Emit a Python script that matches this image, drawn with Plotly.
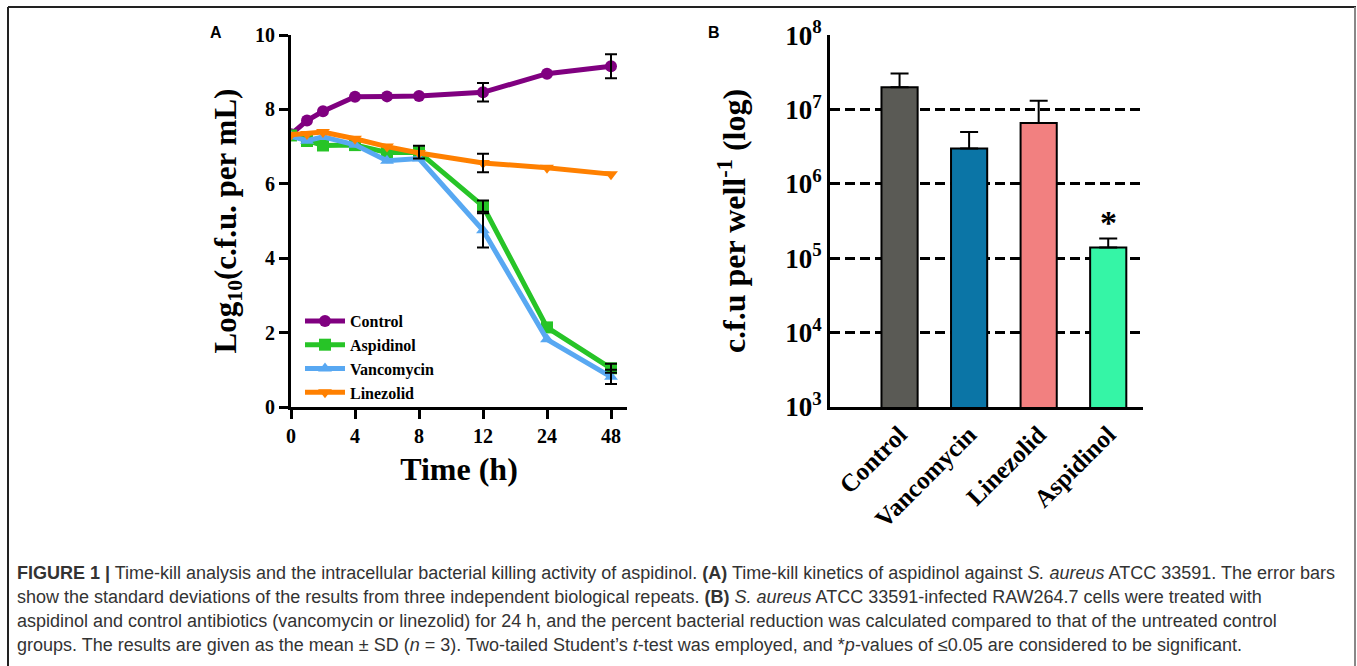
import math
import plotly.graph_objects as go

# ---------------- Panel A data ----------------
times = [0, 1, 2, 4, 6, 8, 12, 24, 48]
time_ticks = [0, 4, 8, 12, 24, 48]

control = [7.33, 7.70, 7.95, 8.34, 8.35, 8.36, 8.46, 8.96, 9.16]
control_err = [0, 0, 0, 0, 0, 0, 0.25, 0, 0.32]
aspidinol = [7.30, 7.15, 7.03, 7.04, 6.84, 6.85, 5.40, 2.14, 1.04]
aspidinol_err = [0, 0, 0, 0, 0, 0.17, 0.15, 0, 0.12]
vancomycin = [7.28, 7.16, 7.26, 7.05, 6.62, 6.68, 4.75, 1.82, 0.81]
vancomycin_err = [0, 0, 0, 0, 0, 0, 0.46, 0, 0.19]
linezolid = [7.32, 7.34, 7.39, 7.21, 7.00, 6.83, 6.56, 6.43, 6.26]
linezolid_err = [0, 0, 0, 0, 0, 0, 0.25, 0, 0]

# ---------------- Panel B data ----------------
groups = ["Control", "Vancomycin", "Linezolid", "Aspidinol"]
cfu = [2.0e7, 3.0e6, 6.6e6, 1.4e5]
cfu_err = [1.05e7, 2.0e6, 6.5e6, 0.45e5]
bar_colors = ["#5a5a55", "#0b75a6", "#f28080", "#35f5a6"]
b_ticks = [1e3, 1e4, 1e5, 1e6, 1e7, 1e8]
b_ticktext = ["10<sup>3</sup>", "10<sup>4</sup>", "10<sup>5</sup>", "10<sup>6</sup>",
              "10<sup>7</sup>", "10<sup>8</sup>"]


def tpos(t):
    # the time axis is uniform up to 12 h, then one tick interval per doubling
    if t <= 12:
        return t
    return 12 + 4 * math.log2(t / 12)


W, H = 1357, 666
SERIF = "Liberation Serif"

fig = go.Figure()

series = [
    ("Control", control, control_err, "#800080", "circle"),
    ("Aspidinol", aspidinol, aspidinol_err, "#27c427", "square"),
    ("Vancomycin", vancomycin, vancomycin_err, "#58a8f2", "triangle-up"),
    ("Linezolid", linezolid, linezolid_err, "#ff8000", "triangle-down"),
]
xp = [tpos(t) for t in times]
for name, vals, err, col, sym in series:
    fig.add_trace(go.Scatter(
        x=xp, y=vals, name=name, mode="lines+markers",
        line=dict(color=col, width=5),
        marker=dict(symbol=sym, size=12, color=col),
        xaxis="x", yaxis="y",
    ))
for name, vals, err, col, sym in series:
    idx = [i for i, e in enumerate(err) if e > 0]
    fig.add_trace(go.Scatter(
        x=[xp[i] for i in idx], y=[vals[i] for i in idx], mode="markers",
        marker=dict(size=1, color="rgba(0,0,0,0)"), showlegend=False,
        error_y=dict(type="data", array=[err[i] for i in idx], color="black",
                     thickness=2, width=6),
        xaxis="x", yaxis="y", hoverinfo="skip",
    ))

fig.add_trace(go.Bar(
    x=groups, y=cfu, marker=dict(color=bar_colors, line=dict(color="black", width=2)),
    width=0.52, showlegend=False,
    error_y=dict(type="data", array=cfu_err, arrayminus=[0] * len(cfu), symmetric=False,
                 color="black", thickness=2, width=9),
    xaxis="x2", yaxis="y2",
))


def px_x(a, b):
    return [a / W, b / W]


def px_y(top, bottom):
    return [1 - bottom / H, 1 - top / H]


fig.update_layout(
    width=W, height=H, autosize=False,
    margin=dict(l=0, r=0, t=0, b=0, autoexpand=False),
    paper_bgcolor="white", plot_bgcolor="rgba(0,0,0,0)",
    showlegend=True,
    legend=dict(x=300 / W, y=1 - 304 / H, xanchor="left", yanchor="top",
                bgcolor="rgba(0,0,0,0)", font=dict(family=SERIF, size=16, color="black", weight="bold"),
                tracegroupgap=0, itemwidth=40),
    xaxis=dict(domain=px_x(291, 627), range=[0, 21], tickvals=[tpos(t) for t in time_ticks],
               ticktext=[str(t) for t in time_ticks], showline=True, linecolor="black", linewidth=3,
               ticks="outside", ticklen=9, tickwidth=3, tickcolor="black", showgrid=False, zeroline=False,
               automargin=False,
               tickfont=dict(family=SERIF, size=20, color="black", weight="bold"),
               title=dict(text="Time (h)", font=dict(family=SERIF, size=32, color="black", weight="bold"),
                          standoff=12),
               anchor="y"),
    yaxis=dict(domain=px_y(35, 407), range=[0, 10], tickvals=[0, 2, 4, 6, 8, 10],
               showline=True, linecolor="black", linewidth=3, ticks="outside", ticklen=9, tickwidth=3,
               tickcolor="black", showgrid=False, zeroline=False, automargin=False,
               tickfont=dict(family=SERIF, size=20, color="black", weight="bold"),
               title=dict(text="Log<sub>10</sub>(c.f.u. per mL)",
                          font=dict(family=SERIF, size=31, color="black", weight="bold"), standoff=10),
               anchor="x"),
    xaxis2=dict(domain=px_x(830, 1143), range=[-1, 3.5], showline=True, linecolor="black", linewidth=3,
                ticks="", showgrid=False, zeroline=False, tickangle=-45, automargin=False,
                tickfont=dict(family=SERIF, size=25, color="black", weight="bold"),
                anchor="y2"),
    yaxis2=dict(domain=px_y(35, 407), type="log", range=[3, 8.003], tickvals=b_ticks, ticktext=b_ticktext,
                showline=True, linecolor="black", linewidth=3, ticks="", zeroline=False, automargin=False,
                showgrid=True, gridcolor="black", gridwidth=3, griddash="10px,5px",
                tickfont=dict(family=SERIF, size=27, color="black", weight="bold"),
                title=dict(text="c.f.u per well<sup>-1</sup> (log)",
                           font=dict(family=SERIF, size=32, color="black", weight="bold"), standoff=30),
                anchor="x2"),
)

# significance star
fig.add_annotation(x="Aspidinol", y=5.48, xref="x2", yref="y2", text="*", showarrow=False,
                   font=dict(family=SERIF, size=34, color="black", weight="bold"), yanchor="middle")

# panel letters
for letter, xpx in [("A", 208), ("B", 706)]:
    fig.add_annotation(x=xpx / W, y=1 - 32 / H, xref="paper", yref="paper", text=f"<b>{letter}</b>",
                       showarrow=False, xanchor="left", yanchor="middle",
                       font=dict(family="Liberation Sans", size=16, color="black"))

caption = [
    "<b>FIGURE 1 |</b> Time-kill analysis and the intracellular bacterial killing activity of aspidinol. "
    "<b>(A)</b> Time-kill kinetics of aspidinol against <i>S. aureus</i> ATCC 33591. The error bars",
    "show the standard deviations of the results from three independent biological repeats. "
    "<b>(B)</b> <i>S. aureus</i> ATCC 33591-infected RAW264.7 cells were treated with",
    "aspidinol and control antibiotics (vancomycin or linezolid) for 24 h, and the percent bacterial "
    "reduction was calculated compared to that of the untreated control",
    "groups. The results are given as the mean ± SD (<i>n</i> = 3). Two-tailed Student’s <i>t</i>-test "
    "was employed, and *<i>p</i>-values of ≤0.05 are considered to be significant.",
]
for i, line in enumerate(caption):
    fig.add_annotation(x=15 / W, y=1 - (573 + 24 * i) / H, xref="paper", yref="paper", text=line,
                       showarrow=False, xanchor="left", yanchor="middle", align="left",
                       font=dict(family="Liberation Sans", size=18, color="#333333"))

# figure frame
frame = dict(color="#222222", width=2)
fig.add_shape(type="line", xref="paper", yref="paper", x0=8 / W, x1=1356 / W, y0=1 - 7 / H, y1=1 - 7 / H, line=frame)
fig.add_shape(type="line", xref="paper", yref="paper", x0=8 / W, x1=8 / W, y0=0, y1=1 - 7 / H, line=frame)
fig.add_shape(type="line", xref="paper", yref="paper", x0=1355 / W, x1=1355 / W, y0=0, y1=1 - 7 / H,
              line=dict(color="#888888", width=2))

fig.write_html("out.html", config={"displayModeBar": False},
               post_script="document.body.style.margin='0';document.body.style.overflow='hidden';")
